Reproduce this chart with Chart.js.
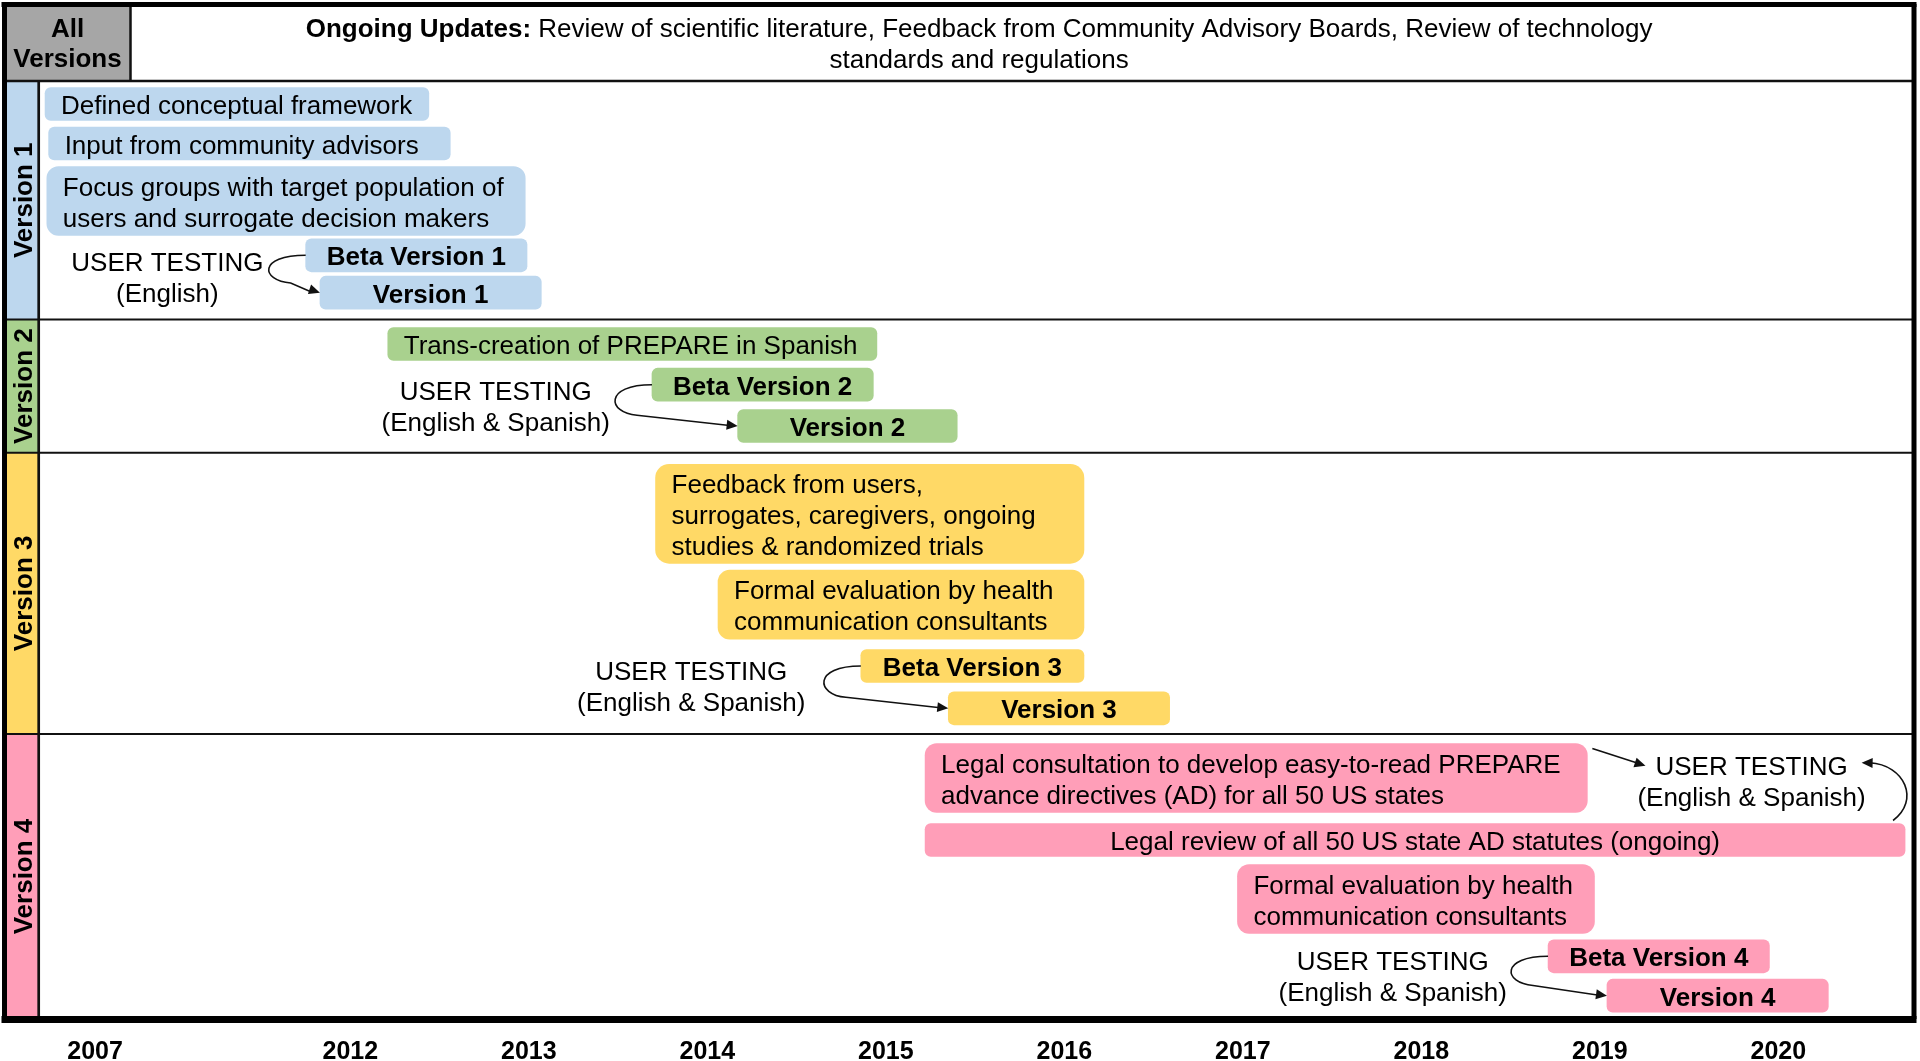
<!DOCTYPE html>
<html>
<head>
<meta charset="utf-8">
<title>PREPARE development timeline</title>
<script src="https://cdn.jsdelivr.net/npm/chart.js@4.4.1/dist/chart.umd.min.js"></script>
<style>
  html, body { margin: 0; padding: 0; background: #fff; }
  canvas { display: block; }
</style>
</head>
<body>
<canvas id="timelineChart" width="1920" height="1061"></canvas>
<script>
// Year axis (2007 sits in a compressed gap before 2012)
const yearLabels = ['2007', '2012', '2013', '2014', '2015', '2016', '2017', '2018', '2019', '2020'];
const yearTicks = [2010.57, 2012, 2013, 2014, 2015, 2016, 2017, 2018, 2019, 2020];

// Version rows (lane units, top to bottom)
const versionNames = ['Version 1', 'Version 2', 'Version 3', 'Version 4'];
const versionColors = ['#bdd7ee', '#a9d18e', '#ffd966', '#ff9eb8'];
const rowTops = [7.7, 31.55, 44.87, 73.0];
const rowBottoms = [31.55, 44.87, 73.0, 101.5];

// Header row
const headerCell = ['All', 'Versions'];
const headerBold = 'Ongoing Updates:';
const headerLines = [' Review of scientific literature, Feedback from Community Advisory Boards, Review of technology',
  'standards and regulations'];

// Timeline tasks
const taskLabels = [
  'Defined conceptual framework',
  'Input from community advisors',
  'Focus groups with target population of\nusers and surrogate decision makers',
  'Beta Version 1',
  'Version 1',
  'Trans-creation of PREPARE in Spanish',
  'Beta Version 2',
  'Version 2',
  'Feedback from users,\nsurrogates, caregivers, ongoing\nstudies & randomized trials',
  'Formal evaluation by health\ncommunication consultants',
  'Beta Version 3',
  'Version 3',
  'Legal consultation to develop easy-to-read PREPARE\nadvance directives (AD) for all 50 US states',
  'Legal review of all 50 US state AD statutes (ongoing)',
  'Formal evaluation by health\ncommunication consultants',
  'Beta Version 4',
  'Version 4'
];
const taskVersion = [0, 0, 0, 0, 0, 1, 1, 1, 2, 2, 2, 2, 3, 3, 3, 3, 3];
const taskStart = [2010.29, 2010.31, 2010.30, 2011.75, 2011.83, 2012.21, 2013.69, 2014.17,
  2013.71, 2014.06, 2014.86, 2015.35, 2015.22, 2015.22, 2016.97, 2018.71, 2019.04];
const taskEnd = [2012.44, 2012.56, 2012.98, 2012.99, 2013.07, 2014.95, 2014.93, 2015.40,
  2016.11, 2016.11, 2016.11, 2016.59, 2018.93, 2020.71, 2018.97, 2019.95, 2020.28];
const taskLane = [10.0, 13.95, 19.7, 25.13, 28.87, 34.0, 38.07, 42.2,
  50.98, 60.07, 66.2, 70.43, 77.4, 83.6, 89.5, 95.23, 99.17];
const taskBold = [false, false, false, true, true, false, true, true,
  false, false, true, true, false, false, false, true, true];
const taskCentered = [false, false, false, true, true, false, true, true,
  false, false, true, true, false, true, false, true, true];

// User testing notes
const noteLabels = ['USER TESTING\n(English)', 'USER TESTING\n(English & Spanish)', 'USER TESTING\n(English & Spanish)',
  'USER TESTING\n(English & Spanish)', 'USER TESTING\n(English & Spanish)'];
const noteX = [2010.975, 2012.815, 2013.91, 2017.84, 2019.85];
const noteLane = [27.33, 40.23, 68.22, 97.18, 77.73];

// Beta -> release arrows (task indexes)
const arrowPairs = [[3, 4], [6, 7], [10, 11], [15, 16]];

const FONT_FAMILY = '"Liberation Sans", Arial, Helvetica, sans-serif';
const barHeights = { 1: 33, 2: 69, 3: 99 };
const barRadius = { 1: 6, 2: 12, 3: 14 };

function font(size, bold) {
  return (bold ? 'bold ' : '') + size + 'px ' + FONT_FAMILY;
}

// Build one dataset per box height
const datasets = [1, 2, 3].map(lines => {
  const data = [];
  taskLabels.forEach((label, t) => {
    if (label.split('\n').length === lines) {
      data.push({ x: [taskStart[t], taskEnd[t]], y: taskLane[t], task: t });
    }
  });
  return {
    label: lines + ' line boxes',
    data: data,
    stack: 'lane',
    barThickness: barHeights[lines],
    borderRadius: barRadius[lines],
    borderSkipped: false,
    borderWidth: 0,
    backgroundColor: ctx => versionColors[taskVersion[ctx.raw ? ctx.raw.task : 0]]
  };
});

function taskBoxes(chart) {
  const boxes = {};
  chart.data.datasets.forEach((ds, di) => {
    chart.getDatasetMeta(di).data.forEach((bar, i) => {
      const p = bar.getProps(['x', 'y', 'base', 'height'], true);
      boxes[ds.data[i].task] = {
        l: Math.min(p.x, p.base), r: Math.max(p.x, p.base),
        y: p.y, top: p.y - p.height / 2, bottom: p.y + p.height / 2
      };
    });
  });
  return boxes;
}

function hLine(ctx, x0, x1, y, w) {
  ctx.lineWidth = w;
  ctx.beginPath(); ctx.moveTo(x0, y); ctx.lineTo(x1, y); ctx.stroke();
}

function vLine(ctx, x, y0, y1, w) {
  ctx.lineWidth = w;
  ctx.beginPath(); ctx.moveTo(x, y0); ctx.lineTo(x, y1); ctx.stroke();
}

function arrowHead(ctx, fromX, fromY, tipX, tipY) {
  const a = Math.atan2(tipY - fromY, tipX - fromX);
  const len = 11, w = 5;
  ctx.beginPath();
  ctx.moveTo(tipX, tipY);
  ctx.lineTo(tipX - len * Math.cos(a) + w * Math.sin(a), tipY - len * Math.sin(a) - w * Math.cos(a));
  ctx.lineTo(tipX - len * Math.cos(a) - w * Math.sin(a), tipY - len * Math.sin(a) + w * Math.cos(a));
  ctx.closePath();
  ctx.fill();
}

// Frame, header and version column
const framePlugin = {
  id: 'frame',
  beforeDraw(chart) {
    const ctx = chart.ctx;
    ctx.save();
    ctx.fillStyle = '#fff';
    ctx.fillRect(0, 0, chart.width, chart.height);
    ctx.restore();
  },
  beforeDatasetsDraw(chart) {
    const { ctx, chartArea: area, scales: { y } } = chart;
    const left = area.left, right = area.right, top = area.top;
    const headerBottom = y.getPixelForValue(rowTops[0]);
    const bottom = y.getPixelForValue(rowBottoms[3]);
    ctx.save();

    // gray "All Versions" cell
    ctx.fillStyle = '#a6a6a6';
    ctx.fillRect(left, top, 127, headerBottom - top);

    // version label column
    versionNames.forEach((name, i) => {
      const y0 = y.getPixelForValue(rowTops[i]);
      const y1 = y.getPixelForValue(rowBottoms[i]);
      ctx.fillStyle = versionColors[i];
      ctx.fillRect(left, y0, 34, y1 - y0);
    });

    ctx.strokeStyle = '#111';
    hLine(ctx, left, right, headerBottom, 2.5);
    rowTops.slice(1).forEach(v => hLine(ctx, left, right, y.getPixelForValue(v), 2));
    vLine(ctx, left + 126.5, top, headerBottom, 2.5);
    vLine(ctx, left + 34.7, headerBottom, bottom, 2.7);

    // outer frame
    ctx.strokeStyle = '#000';
    hLine(ctx, left - 2.5, right + 2.5, top + 0.5, 5);
    vLine(ctx, left + 0.5, top, bottom, 5);
    vLine(ctx, right, top, bottom, 5);
    hLine(ctx, left - 2.5, right + 2.5, bottom + 0.5, 7);
    ctx.restore();
  }
};

// Header text, version labels, box labels, notes and arrows
const textPlugin = {
  id: 'texts',
  afterDatasetsDraw(chart) {
    const { ctx, chartArea: area, scales: { x, y } } = chart;
    const left = area.left;
    const headerMid = (area.top + y.getPixelForValue(rowTops[0])) / 2 + 1.5;
    ctx.save();
    ctx.fillStyle = '#000';
    ctx.textBaseline = 'middle';

    // header
    ctx.font = font(26, true);
    ctx.textAlign = 'center';
    ctx.fillText(headerCell[0], left + 63.5, headerMid - 14);
    ctx.fillText(headerCell[1], left + 63.5, headerMid + 15.5);
    const cx = left + area.width * 0.5105;
    const wBold = ctx.measureText(headerBold).width;
    ctx.font = font(26, false);
    const wRest = ctx.measureText(headerLines[0]).width;
    const startX = cx - (wBold + wRest) / 2;
    ctx.textAlign = 'left';
    ctx.font = font(26, true);
    ctx.fillText(headerBold, startX, headerMid - 14);
    ctx.font = font(26, false);
    ctx.fillText(headerLines[0], startX + wBold, headerMid - 14);
    ctx.textAlign = 'center';
    ctx.fillText(headerLines[1], cx, headerMid + 17);

    // rotated version labels
    ctx.font = font(26, true);
    versionNames.forEach((name, i) => {
      const yc = (y.getPixelForValue(rowTops[i]) + y.getPixelForValue(rowBottoms[i])) / 2;
      ctx.save();
      ctx.translate(left + 20, yc);
      ctx.rotate(-Math.PI / 2);
      ctx.textAlign = 'center';
      ctx.fillText(name, 0, 1);
      ctx.restore();
    });

    // box labels
    const boxes = taskBoxes(chart);
    taskLabels.forEach((label, t) => {
      const b = boxes[t];
      if (!b) return;
      const lines = label.split('\n');
      ctx.font = font(26, taskBold[t]);
      if (taskCentered[t]) {
        ctx.textAlign = 'center';
        ctx.fillText(lines[0], (b.l + b.r) / 2, b.y + 3);
      } else {
        ctx.textAlign = 'left';
        lines.forEach((ln, k) => {
          ctx.fillText(ln, b.l + 16, b.y + 3 + (k - (lines.length - 1) / 2) * 30.8);
        });
      }
    });

    // user testing notes
    ctx.font = font(26, false);
    ctx.textAlign = 'center';
    const notePos = noteLabels.map((label, i) => {
      const nx = x.getPixelForValue(noteX[i]);
      const ny = y.getPixelForValue(noteLane[i]);
      const lines = label.split('\n');
      lines.forEach((ln, k) => ctx.fillText(ln, nx, ny + 2.5 + (k - 0.5) * 31));
      const w = ctx.measureText(lines[0]).width;
      return { l: nx - w / 2, r: nx + w / 2, line1: ny - 15.5 };
    });

    // beta -> release arrows
    ctx.strokeStyle = '#111';
    ctx.fillStyle = '#111';
    ctx.lineWidth = 1.6;
    arrowPairs.forEach(([bi, vi]) => {
      const beta = boxes[bi], rel = boxes[vi];
      const dy = rel.y - beta.y;
      const sx = beta.l, sy = beta.y;
      const mx = sx - 15, my = sy + 0.74 * dy;
      const tipX = rel.l, tipY = rel.y;
      ctx.beginPath();
      ctx.moveTo(sx, sy);
      ctx.bezierCurveTo(sx - 48, sy, sx - 45, sy + 0.68 * dy, mx, my);
      ctx.lineTo(tipX - 8, tipY - 0.5);
      ctx.stroke();
      arrowHead(ctx, mx, my, tipX, tipY);
    });

    // version 4 legal work -> user testing
    const note = notePos[4];
    const consult = boxes[12], review = boxes[13];
    const ax0 = consult.r + 5, ay0 = consult.top + 5;
    const ax1 = note.l - 10, ay1 = note.line1;
    ctx.beginPath();
    ctx.moveTo(ax0, ay0);
    ctx.lineTo(ax1 - 6, ay1 - 2);
    ctx.stroke();
    arrowHead(ctx, ax0, ay0, ax1, ay1);

    const bx0 = review.r - 12, by0 = review.top - 3;
    const bx1 = note.r + 14, by1 = note.line1 - 3;
    ctx.beginPath();
    ctx.moveTo(bx0, by0);
    ctx.bezierCurveTo(bx0 + 27, by0 - 20, bx0 + 12, by1 + 2, bx1 + 8, by1);
    ctx.stroke();
    arrowHead(ctx, bx0 + 12, by1 + 1, bx1, by1);

    ctx.restore();
  }
};

new Chart(document.getElementById('timelineChart').getContext('2d'), {
  type: 'bar',
  data: { datasets: datasets },
  options: {
    indexAxis: 'y',
    responsive: false,
    animation: false,
    devicePixelRatio: 1,
    layout: { padding: { left: 4, right: 6, top: 4, bottom: 0 } },
    plugins: {
      legend: { display: false },
      tooltip: { enabled: false }
    },
    scales: {
      x: {
        type: 'linear',
        min: 2010.06,
        max: 2020.76,
        stacked: false,
        offset: false,
        grid: { display: false, drawTicks: false },
        border: { display: false },
        afterBuildTicks: scale => {
          scale.ticks = yearTicks.map(v => ({ value: v }));
        },
        afterFit: scale => {
          scale.height = 42;
        },
        ticks: {
          autoSkip: false,
          maxRotation: 0,
          padding: 21,
          color: '#000',
          font: { family: FONT_FAMILY, size: 25, weight: 'bold', lineHeight: 1 },
          callback: (value, index) => yearLabels[index]
        }
      },
      y: {
        type: 'linear',
        display: false,
        reverse: true,
        offset: false,
        min: 0,
        max: 101.5
      }
    }
  },
  plugins: [framePlugin, textPlugin]
});
</script>
</body>
</html>
